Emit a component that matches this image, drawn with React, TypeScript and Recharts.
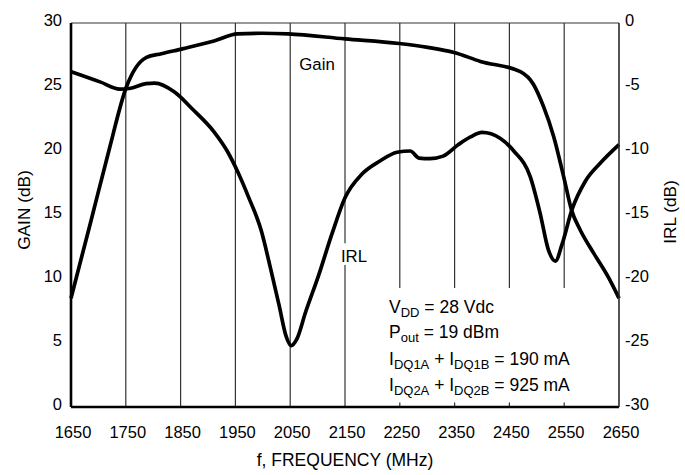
import React from 'react';
import { LineChart, Line, XAxis, YAxis, CartesianGrid, ReferenceArea } from 'recharts';

const freqTicks = [1650, 1750, 1850, 1950, 2050, 2150, 2250, 2350, 2450, 2550, 2650];
const gainTicks = [0, 5, 10, 15, 20, 25, 30];
const irlTicks = [-30, -25, -20, -15, -10, -5, 0];

const gainFreq = [1650, 1685, 1719, 1751, 1787, 1815, 1855, 1911, 1954, 1998, 2046, 2150, 2249, 2301, 2349, 2397, 2470, 2494, 2512, 2531, 2549, 2564, 2579, 2604, 2631, 2650];
const gainVals = [8.5, 14.3, 20, 25, 27.3, 27.6, 28, 28.6, 29.15, 29.2, 29.15, 28.76, 28.4, 28.1, 27.7, 27.0, 26.2, 25.2, 23.5, 21.1, 18.0, 15.3, 13.85, 12.0, 10.1, 8.5];

const irlFreq = [1650, 1703, 1739, 1759, 1787, 1803, 1839, 1871, 1911, 1935, 1954, 1974, 1997, 2014, 2030, 2042, 2052, 2062, 2078, 2102, 2126, 2150, 2181, 2213, 2245, 2269, 2285, 2305, 2329, 2357, 2379, 2400, 2433, 2458, 2488, 2506, 2521, 2534, 2546, 2564, 2588, 2616, 2650];
const irlVals = [-3.8, -4.6, -5.17, -5.1, -4.73, -4.7, -5.4, -6.7, -8.5, -10, -11.6, -13.6, -16.2, -19.15, -22.1, -24.4, -25.2, -24.7, -22.6, -19.7, -16.5, -13.65, -11.8, -10.8, -10.1, -10, -10.55, -10.6, -10.4, -9.5, -8.9, -8.55, -9.0, -10.0, -12.0, -14.85, -17.7, -18.6, -17.3, -14.6, -12.4, -10.94, -9.5];

const gainData = gainFreq.map((f, i) => ({ f, gain: gainVals[i] }));
const irlData = irlFreq.map((f, i) => ({ f, irl: irlVals[i] }));

const FONT = "'Liberation Sans', Arial, Helvetica, sans-serif";

const LeftTick = (props: any) => {
  const { x, y, payload } = props;
  return (
    <text x={x - 9} y={y + 3.4} textAnchor="end" fontFamily={FONT} fontSize={16.5} fill="#000">
      {payload.value}
    </text>
  );
};

const RightTick = (props: any) => {
  const { x, y, payload } = props;
  return (
    <text x={x + 6} y={y + 3.4} textAnchor="start" fontFamily={FONT} fontSize={16.5} fill="#000">
      {String(payload.value)}
    </text>
  );
};

const BottomTick = (props: any) => {
  const { x, y, payload } = props;
  return (
    <text x={x + 2} y={y + 31} textAnchor="middle" fontFamily={FONT} fontSize={16.5} fill="#000">
      {payload.value}
    </text>
  );
};

const Sub = ({ children }: { children: React.ReactNode }) => (
  <tspan fontSize={13} dy={4}>{children}</tspan>
);
const Up = ({ children }: { children: React.ReactNode }) => (
  <tspan fontSize={17.5} dy={-4}>{children}</tspan>
);

export default function App() {
  return (
    <div style={{ position: 'fixed', left: 0, top: 0, width: 685, height: 475, background: '#fff' }}>
      <LineChart width={685} height={475} margin={{ top: 23, right: 0, bottom: 0, left: 0 }}>
        <CartesianGrid stroke="#333" strokeWidth={1.2} horizontal vertical />
        <XAxis
          dataKey="f"
          type="number"
          domain={[1650, 2650]}
          ticks={freqTicks}
          allowDuplicatedCategory={false}
          height={68}
          tickSize={0}
          tickMargin={0}
          tickLine={false}
          axisLine={{ stroke: '#000', strokeWidth: 2.6 }}
          tick={<BottomTick />}
          interval={0}
        />
        <YAxis
          yAxisId="left"
          orientation="left"
          domain={[0, 30]}
          ticks={gainTicks}
          width={71}
          tickSize={0}
          tickMargin={0}
          tickLine={false}
          axisLine={{ stroke: '#000', strokeWidth: 2.6 }}
          tick={<LeftTick />}
          interval={0}
        />
        <YAxis
          yAxisId="right"
          orientation="right"
          domain={[-30, 0]}
          ticks={irlTicks}
          width={66}
          tickSize={0}
          tickMargin={0}
          tickLine={false}
          axisLine={{ stroke: '#333', strokeWidth: 1.2 }}
          tick={<RightTick />}
          interval={0}
        />
        <ReferenceArea yAxisId="left" x1={2220} x2={2585} y1={0.35} y2={9.3} fill="#fff" fillOpacity={1} stroke="none" />
        <ReferenceArea yAxisId="left" x1={2145} x2={2205} y1={11.1} y2={12.8} fill="#fff" fillOpacity={1} stroke="none" />
        <Line
          yAxisId="left"
          data={gainData}
          dataKey="gain"
          type="monotone"
          stroke="#000"
          strokeWidth={3.7}
          dot={false}
          isAnimationActive={false}
        />
        <Line
          yAxisId="right"
          data={irlData}
          dataKey="irl"
          type="monotone"
          stroke="#000"
          strokeWidth={3.7}
          dot={false}
          isAnimationActive={false}
        />
      </LineChart>
      <svg width={685} height={475} style={{ position: 'absolute', left: 0, top: 0, pointerEvents: 'none' }}>
        <g fontFamily={FONT} fill="#000">
          <text x={317} y={70} textAnchor="middle" fontSize={16.8}>Gain</text>
          <text x={354} y={262} textAnchor="middle" fontSize={16.8}>IRL</text>
          <text x={389} y={312.5} fontSize={17.5}>V<Sub>DD</Sub><Up> = 28 Vdc</Up></text>
          <text x={389} y={338.3} fontSize={17.5}>P<Sub>out</Sub><Up> = 19 dBm</Up></text>
          <text x={389} y={365} fontSize={17.5}>I<Sub>DQ1A</Sub><Up> + I</Up><Sub>DQ1B</Sub><Up> = 190 mA</Up></text>
          <text x={389} y={390.7} fontSize={17.5}>I<Sub>DQ2A</Sub><Up> + I</Up><Sub>DQ2B</Sub><Up> = 925 mA</Up></text>
          <text x={345} y={465.5} textAnchor="middle" fontSize={17.5}>f, FREQUENCY (MHz)</text>
          <text transform="translate(30, 210) rotate(-90)" textAnchor="middle" fontSize={17.3}>GAIN (dB)</text>
          <text transform="translate(676, 212) rotate(-90)" textAnchor="middle" fontSize={17.3}>IRL (dB)</text>
        </g>
      </svg>
    </div>
  );
}
